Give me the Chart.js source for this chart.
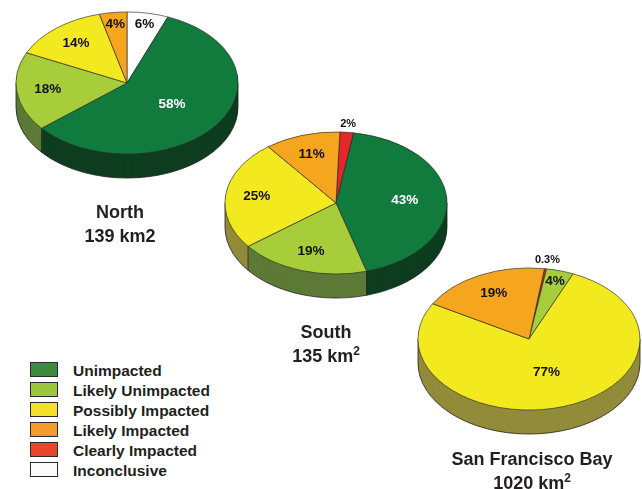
<!DOCTYPE html>
<html>
<head>
<meta charset="utf-8">
<title>Sediment condition by region</title>
<script src="https://cdn.jsdelivr.net/npm/chart.js@4.4.1/dist/chart.umd.min.js"></script>
<style>
  body {
    margin: 0;
    width: 642px;
    height: 489px;
    overflow: hidden;
    position: relative;
    background: #fff;
    font-family: "Liberation Sans", Arial, sans-serif;
    color: #231f20;
  }
  canvas.pie { position: absolute; }
  .title {
    position: absolute;
    width: 220px;
    text-align: center;
    font-weight: bold;
    font-size: 18px;
    line-height: 24px;
    white-space: nowrap;
  }
  .title sup { font-size: 12px; vertical-align: 7px; line-height: 0; }
  #legend { position: absolute; left: 30px; top: 361px; }
  .row { position: relative; height: 20px; }
  .box {
    position: absolute;
    left: 0;
    top: 1px;
    width: 26px;
    height: 13px;
    border: 1.5px solid #2a2a2a;
  }
  .lbl {
    position: absolute;
    left: 43px;
    top: 0;
    font-weight: bold;
    font-size: 15.5px;
    line-height: 20px;
    white-space: nowrap;
  }
</style>
</head>
<body>
<canvas class="pie" id="north" width="240" height="240" style="left:7px;top:-37px"></canvas>
<canvas class="pie" id="south" width="240" height="240" style="left:216px;top:83px"></canvas>
<canvas class="pie" id="bay" width="240" height="240" style="left:409px;top:219px"></canvas>

<div class="title" style="left:10px;top:200px">North<br>139 km2</div>
<div class="title" style="left:216px;top:320px">South<br>135 km<sup>2</sup></div>
<div class="title" style="left:422px;top:447px">San Francisco Bay<br>1020 km<sup>2</sup></div>

<div id="legend"></div>

<script>
// slice order, clockwise from the top of each pie
const categories = ["Inconclusive", "Clearly Impacted", "Unimpacted", "Likely Unimpacted", "Possibly Impacted", "Likely Impacted"];
const northValues = [6, 0, 58, 18, 14, 4];
const southValues = [0, 2, 43, 19, 25, 11];
const bayValues = [0, 0.3, 0, 4, 77, 19];

const topColors = ["#ffffff", "#e5262a", "#117a3d", "#a7cd3a", "#f3e91f", "#f6a51e"];
const sideColors = ["#9d9d9d", "#7b1518", "#0e3d1f", "#5d7a37", "#928c3a", "#8d5f16"];
const labelColors = ["#111", "#111", "#fff", "#111", "#111", "#111"];

// legend
const legendOrder = ["Unimpacted", "Likely Unimpacted", "Possibly Impacted", "Likely Impacted", "Clearly Impacted", "Inconclusive"];
const legendColors = ["#3c8b3c", "#9dc63f", "#f5df2b", "#f39c2c", "#e8452b", "#fbfbfb"];

// fake 3D: squash the top face, stack darker copies below it
const pie3d = {
  id: "pie3d",
  beforeDatasetsDraw(chart, args, opts) {
    const ctx = chart.ctx;
    const arcs = chart.getDatasetMeta(0).data;
    const cx = arcs[0].x, cy = arcs[0].y, r = arcs[0].outerRadius;
    const k = opts.squash, depth = opts.depth;

    ctx.save();
    for (let d = depth; d >= 1; d--) {
      arcs.forEach(function (a, i) {
        if (a.endAngle - a.startAngle <= 0) return;
        ctx.beginPath();
        ctx.moveTo(cx, cy + d);
        ctx.ellipse(cx, cy + d, r, r * k, 0, a.startAngle, a.endAngle);
        ctx.closePath();
        ctx.fillStyle = sideColors[i];
        ctx.fill();
      });
    }

    // outline of the rim
    ctx.strokeStyle = "#222";
    ctx.lineWidth = 0.8;
    ctx.beginPath();
    ctx.ellipse(cx, cy + depth, r, r * k, 0, 0, Math.PI);
    ctx.stroke();

    const edges = [0, Math.PI];
    arcs.forEach(function (a) {
      if (a.endAngle - a.startAngle <= 0) return;
      let t = a.startAngle % (2 * Math.PI);
      if (t < 0) t += 2 * Math.PI;
      if (t > 0 && t < Math.PI) edges.push(t);
    });
    edges.forEach(function (t) {
      const x = cx + Math.cos(t) * r;
      const y = cy + Math.sin(t) * r * k;
      ctx.beginPath();
      ctx.moveTo(x, y);
      ctx.lineTo(x, y + depth);
      ctx.stroke();
    });
    ctx.restore();

    // squash the top face drawn by Chart.js
    ctx.save();
    ctx.translate(cx, cy);
    ctx.scale(1, k);
    ctx.translate(-cx, -cy);
  },
  afterDatasetsDraw(chart) {
    chart.ctx.restore();
  },
  afterDraw(chart, args, opts) {
    const ctx = chart.ctx;
    const arcs = chart.getDatasetMeta(0).data;
    const values = chart.data.datasets[0].data;
    const k = opts.squash;
    ctx.save();
    ctx.textAlign = "center";
    ctx.textBaseline = "middle";
    arcs.forEach(function (a, i) {
      const v = values[i];
      if (!v) return;
      const mid = (a.startAngle + a.endAngle) / 2;
      let f = 0.72;
      if (v >= 50) f = 0.5;
      else if (v >= 30) f = 0.62;
      else if (v < 3) f = 1.12;
      else if (v < 8) f = 0.84;
      const x = a.x + Math.cos(mid) * a.outerRadius * f;
      const y = a.y + Math.sin(mid) * a.outerRadius * f * k;
      ctx.font = (v < 3 ? "bold 11px" : "bold 13.5px") + ' "Liberation Sans", Arial, sans-serif';
      ctx.fillStyle = v < 3 ? "#111" : labelColors[i];
      ctx.fillText(v + "%", x, y);
    });
    ctx.restore();
  },
};

function makePie(id, values, rotation) {
  return new Chart(document.getElementById(id), {
    type: "pie",
    data: {
      labels: categories,
      datasets: [
        {
          data: values,
          backgroundColor: topColors,
          borderColor: "#2b2b2b",
          borderWidth: 0.8,
        },
      ],
    },
    options: {
      responsive: false,
      animation: false,
      rotation: rotation,
      radius: 111,
      events: [],
      plugins: {
        legend: { display: false },
        tooltip: { enabled: false },
        pie3d: { squash: 0.64, depth: 24 },
      },
    },
    plugins: [pie3d],
  });
}

makePie("north", northValues, 0);
makePie("south", southValues, 2);
makePie("bay", bayValues, 8);

// HTML legend
const legend = document.getElementById("legend");
legend.innerHTML = legendOrder
  .map(function (name, i) {
    return (
      '<div class="row"><div class="box" style="background:' +
      legendColors[i] +
      '"></div><div class="lbl">' +
      name +
      "</div></div>"
    );
  })
  .join("");
</script>
</body>
</html>
